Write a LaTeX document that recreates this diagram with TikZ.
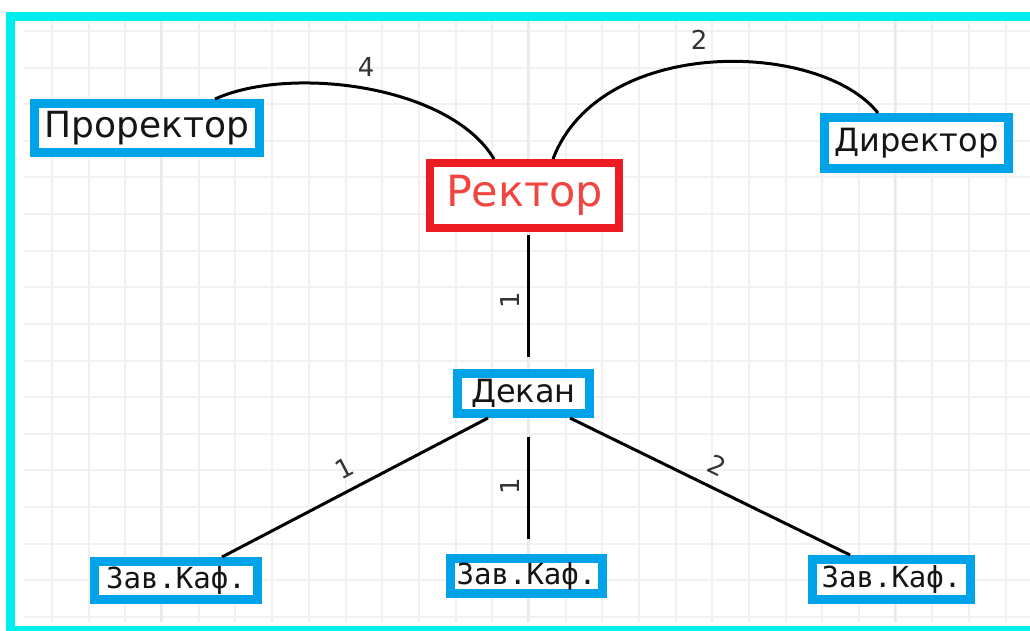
\documentclass[tikz,border=0pt]{standalone}
\usepackage{fontspec}
\setmainfont{DejaVu Sans}
\newfontfamily\zkmono{DejaVu Sans Mono}
\usetikzlibrary{calc}
\definecolor{boxblue}{HTML}{00A2E8}
\definecolor{boxred}{HTML}{ED1C24}
\definecolor{framecyan}{HTML}{00EEEE}
\definecolor{gridc}{HTML}{F1F1F1}
\definecolor{gridd}{HTML}{E9E9E9}
\definecolor{txtred}{HTML}{F2453F}
\definecolor{txtdark}{HTML}{151515}
\tikzset{
  bluebox/.style={draw=boxblue, line width=9pt, fill=white, inner sep=0pt, text=txtdark},
  redbox/.style={draw=boxred, line width=8pt, fill=white, inner sep=0pt, text=txtred},
  conn/.style={draw=black, line width=3pt},
  lbl/.style={font=\fontsize{26}{28}\selectfont, text=black!80, inner sep=1pt},
  gridline/.style={draw=gridc, line width=2pt}
}
\begin{document}
\begin{tikzpicture}[x=1pt,y=-1pt]
\useasboundingbox (0,0) rectangle (1030,630);
\clip (0,0) rectangle (1030,630);
\fill[white] (0,0) rectangle (1030,630);
% grid
\foreach \i in {1,...,27} {
  \draw[gridline] ({15.4+36.68*\i},20) -- ({15.4+36.68*\i},622);
}
\foreach \j in {0,...,16} {
  \draw[gridline] (24,{31+36.62*\j}) -- (1030,{31+36.62*\j});
}
\foreach \xx in {161.3,528.1,894.9} {
  \draw[draw=gridd, line width=2pt] (\xx,20) -- (\xx,622);
}
% frame
\draw[draw=framecyan, line width=9pt] (10,16) -- (1045,16) -- (1045,630.5) -- (10,630.5) -- cycle;

% nodes
\node[bluebox, minimum width=225pt, minimum height=49pt, font=\fontsize{36}{40}\selectfont] (pror) at (147,128) {Проректор};
\node[redbox, minimum width=189pt, minimum height=65pt, font=\fontsize{43}{46}\selectfont] (rect) at (524.5,195.5) {Ректор};
\node[bluebox, minimum width=184pt, minimum height=51pt, font=\fontsize{32}{36}\selectfont] (dir) at (916.5,143) {Директор};
\node[bluebox, minimum width=132pt, minimum height=40pt, font=\fontsize{32}{36}\selectfont] (dek) at (523.5,393.5) {Декан};
\node[bluebox, minimum width=163pt, minimum height=38pt, font=\zkmono\fontsize{29}{32}\selectfont] (zka) at (176,580.5) {Зав.Каф.};
\node[bluebox, minimum width=152pt, minimum height=35pt, font=\zkmono\fontsize{29}{32}\selectfont] (zkb) at (526.5,576) {Зав.Каф.};
\node[bluebox, minimum width=158pt, minimum height=40pt, font=\zkmono\fontsize{29}{32}\selectfont] (zkc) at (891.5,579.5) {Зав.Каф.};

% connectors
\draw[conn] ([xshift=-30.5pt]rect.north) .. controls (450,85) and (290,65) .. ([xshift=68pt]pror.north)
  node[lbl, pos=0.5, yshift=21pt] {4};
\draw[conn] ([xshift=28.5pt]rect.north) .. controls (600,35) and (820,40) .. ([xshift=-38.5pt]dir.north)
  node[lbl, pos=0.47, yshift=23pt] {2};
\draw[conn, shorten <=3pt, shorten >=12pt] ([xshift=3.5pt]rect.south) -- ([xshift=4.5pt]dek.north)
  node[lbl, midway, xshift=-18pt, rotate=90] {1};
\draw[conn] ([xshift=-35.5pt]dek.south) -- ([xshift=46pt]zka.north)
  node[lbl, pos=0.5, sloped, above=10pt] {1};
\draw[conn, shorten <=19pt, shorten >=15pt] ([xshift=4.5pt]dek.south) -- ([xshift=1.5pt]zkb.north)
  node[lbl, midway, xshift=-18pt, rotate=90] {1};
\draw[conn] ([xshift=46.5pt]dek.south) -- ([xshift=-41.5pt]zkc.north)
  node[lbl, pos=0.49, sloped, above=10pt] {2};
\end{tikzpicture}
\end{document}
